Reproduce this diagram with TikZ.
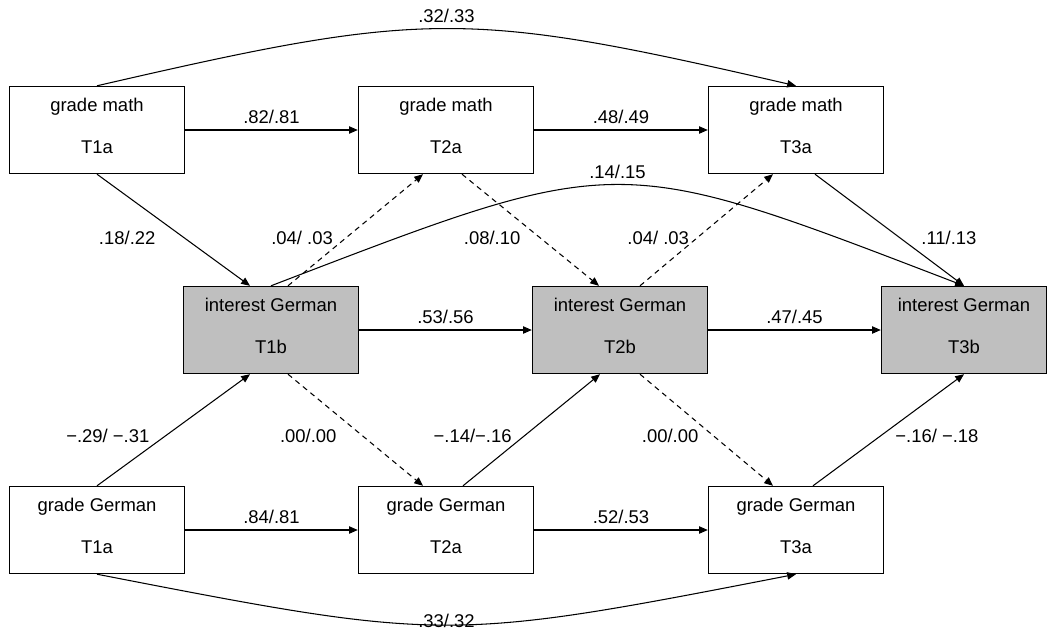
\documentclass[tikz,border=0pt]{standalone}
\usepackage{fontspec}
\setmainfont{Liberation Sans}
\usepackage{tikz}
\usetikzlibrary{arrows.meta}
\newcommand{\boxtext}[2]{#1\\[11.3pt]#2\rule[-4.6pt]{0pt}{4.6pt}}
\tikzset{
	varbox/.style={draw, line width=0.8pt, minimum width=3.5cm, minimum height=1.74cm, align=center},
	interestbox/.style={varbox, fill=black!25},
	link/.style={->, line width=0.6pt},
	nulllink/.style={link, dash pattern=on 3pt off 2.5pt}
}

\begin{document}
\begin{tikzpicture}[font=\fontsize{10.5}{12.6}\selectfont, >={Triangle[length=5pt,width=4.2pt]}]
	\useasboundingbox (0,0) rectangle (21.02,12.6);

	% --- grade math ---
	\node[varbox] (gm1) at (1.94, 10.0) {\boxtext{grade math}{T1a}};
	\node[varbox] (gm2) at (8.92, 10.0) {\boxtext{grade math}{T2a}};
	\node[varbox] (gm3) at (15.92, 10.0) {\boxtext{grade math}{T3a}};

	% --- interest German ---
	\node[interestbox] (ig1) at (5.42, 6.0) {\boxtext{interest German}{T1b}};
	\node[interestbox] (ig2) at (12.40, 6.0) {\boxtext{interest German}{T2b}};
	\node[interestbox, minimum width=3.3cm] (ig3) at (19.28, 6.0) {\boxtext{interest German}{T3b}};

	% --- grade German ---
	\node[varbox] (gg1) at (1.94, 2.0) {\boxtext{grade German}{T1a}};
	\node[varbox] (gg2) at (8.92, 2.0) {\boxtext{grade German}{T2a}};
	\node[varbox] (gg3) at (15.92, 2.0) {\boxtext{grade German}{T3a}};

	% Stabilitäten
	\draw[link] (gm1) -- node[above] {.82/.81} (gm2);
	\draw[link] (gm2) -- node[above] {.48/.49} (gm3);
	\draw[link] (ig1) -- node[above] {.53/.56} (ig2);
	\draw[link] (ig2) -- node[above] {.47/.45} (ig3);
	\draw[link] (gg1) -- node[above] {.84/.81} (gg2);
	\draw[link] (gg2) -- node[above] {.52/.53} (gg3);

	% Kreuzpfade oben
	\draw[link] (gm1.south) -- node[pos=.57, xshift=-1.14cm] {.18/.22} ([xshift=-4.2mm]ig1.north);
	\draw[nulllink] ([xshift=3.4mm]ig1.north) -- node[pos=.43, xshift=-.88cm] {.04/ .03} ([xshift=-4.6mm]gm2.south);
	\draw[nulllink] ([xshift=3.2mm]gm2.south) -- node[pos=.57, xshift=-.96cm] {.08/.10} ([xshift=-4.2mm]ig2.north);
	\draw[nulllink] ([xshift=4mm]ig2.north) -- node[pos=.43, xshift=-.78cm] {.04/ .03} ([xshift=-4.6mm]gm3.south);
	\draw[link] ([xshift=3.8mm]gm3.south) -- node[pos=.57, xshift=.98cm] {.11/.13} (ig3.north);

	% Kreuzpfade unten
	\draw[link] (gg1.north) -- node[pos=.45, xshift=-1.16cm] {−.29/ −.31} ([xshift=-4.2mm]ig1.south);
	\draw[nulllink] ([xshift=3.4mm]ig1.south) -- node[pos=.55, xshift=-1.08cm] {.00/.00} ([xshift=-4.6mm]gg2.north);
	\draw[link] ([xshift=3.4mm]gg2.north) -- node[pos=.45, xshift=-1.04cm] {−.14/−.16} ([xshift=-4mm]ig2.south);
	\draw[nulllink] ([xshift=4mm]ig2.south) -- node[pos=.55, xshift=-.86cm] {.00/.00} ([xshift=-4.6mm]gg3.north);
	\draw[link] ([xshift=3.4mm]gg3.north) -- node[pos=.45, xshift=1.12cm] {−.16/ −.18} (ig3.south);

	% Bögen
	\draw[link] (gm1.north) to[out=13, in=167, looseness=1.24] node[above] {.32/.33} (gm3.north);
	\draw[link] (ig1.north) to[out=21, in=159, looseness=1.39] node[above] {.14/.15} (ig3.north);
	\draw[link] (gg1.south) to[out=-11, in=191, looseness=1.3] node[yshift=.08cm] {.33/.32} (gg3.south);
\end{tikzpicture}
\end{document}
